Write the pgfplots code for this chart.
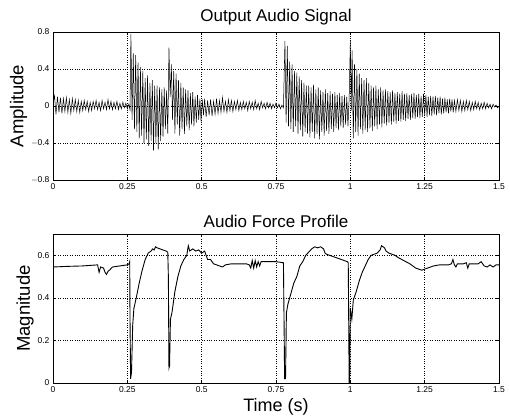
\documentclass[border=0pt]{standalone}
\usepackage{fontspec}
\setmainfont{Liberation Sans}
\usepackage{pgfplots}
\pgfplotsset{compat=1.18}

\pgfplotsset{
  mstyle/.style={
    scale only axis, width=446pt,
    xmin=0, xmax=1.5,
    xtick={0,0.25,0.5,0.75,1,1.25,1.5},
    xticklabels={0,0.25,0.5,0.75,1,1.25,1.5},
    tick align=inside, major tick length=3pt,
    tick style={black, thin},
    ticklabel style={font=\fontsize{8.5}{9}\selectfont},
    /pgf/number format/assume math mode=true,
    grid=major, grid style={black, dotted, thin},
    axis line style={black, thin},
    title style={font=\fontsize{17}{18}\selectfont, yshift=-3pt},
    ylabel style={font=\fontsize{18.5}{20}\selectfont, yshift=-3pt},
    xlabel style={font=\fontsize{18}{20}\selectfont, yshift=1pt},
  }
}

\begin{document}
\begin{tikzpicture}
\useasboundingbox (0pt,0pt) rectangle (510pt,419pt);

% top: audio signal
\begin{axis}[mstyle, at={(53pt,239pt)}, anchor=south west, height=148pt,
    ymin=-0.8, ymax=0.8, ytick={-0.8,-0.4,0,0.4,0.8},
    yticklabels={$-$0.8,$-$0.4,0,0.4,0.8},
    title={Output Audio Signal}, ylabel={Amplitude}]
\addplot[black, line width=0.5pt] coordinates {
(0.000,0.02) (0.005,0.11) (0.010,-0.09) (0.015,0.10) (0.020,-0.07) (0.025,0.09) (0.030,-0.08) (0.035,0.08)
(0.040,-0.06) (0.045,0.09) (0.050,-0.07) (0.055,0.07) (0.060,-0.08) (0.065,0.08) (0.070,-0.05) (0.075,0.07)
(0.080,-0.06) (0.085,0.06) (0.090,-0.07) (0.095,0.05) (0.100,-0.05) (0.105,0.06) (0.110,-0.04) (0.115,0.05)
(0.120,-0.06) (0.125,0.04) (0.130,-0.05) (0.135,0.05) (0.140,-0.03) (0.145,0.06) (0.150,-0.04) (0.155,0.04)
(0.160,-0.05) (0.165,0.06) (0.170,-0.03) (0.175,0.04) (0.180,-0.04) (0.185,0.07) (0.190,-0.03) (0.195,0.05)
(0.200,-0.04) (0.205,0.04) (0.210,-0.03) (0.215,0.05) (0.220,-0.04) (0.225,0.03) (0.230,-0.03) (0.235,0.04)
(0.240,-0.02) (0.245,0.03) (0.250,-0.03) (0.255,0.02) (0.259,-0.04)
(0.262,0.78) (0.266,-0.15) (0.270,0.57) (0.274,-0.25) (0.278,0.55) (0.282,-0.28) (0.286,0.47) (0.290,-0.35)
(0.294,0.42) (0.298,-0.32) (0.302,0.38) (0.306,-0.40) (0.310,0.30) (0.314,-0.36) (0.318,0.33) (0.322,-0.43)
(0.326,0.25) (0.330,-0.38) (0.334,0.28) (0.338,-0.48) (0.342,0.22) (0.346,-0.40) (0.350,0.22) (0.354,-0.47)
(0.358,0.20) (0.362,-0.38) (0.366,0.18) (0.370,-0.33) (0.374,0.20) (0.378,-0.25) (0.382,0.17) (0.386,-0.30)
(0.390,0.63) (0.394,0.10) (0.398,0.45) (0.402,-0.15) (0.406,0.38) (0.410,-0.30) (0.414,0.35) (0.418,-0.20)
(0.422,0.28) (0.426,-0.32) (0.430,0.25) (0.434,-0.25) (0.438,0.20) (0.442,-0.30) (0.446,0.18) (0.450,-0.22)
(0.454,0.17) (0.458,-0.26) (0.462,0.14) (0.466,-0.20) (0.470,0.15) (0.474,-0.22) (0.478,0.10) (0.482,-0.18)
(0.486,0.12) (0.490,-0.15) (0.494,0.08) (0.498,-0.17) (0.502,0.07) (0.506,-0.10)
(0.510,0.08) (0.515,-0.12) (0.520,0.06) (0.525,-0.10) (0.530,0.07) (0.535,-0.11) (0.540,0.05) (0.545,-0.09)
(0.550,0.08) (0.555,-0.08) (0.560,0.06) (0.565,-0.07) (0.570,0.09) (0.575,-0.06) (0.580,0.05) (0.585,-0.07)
(0.590,0.07) (0.595,-0.05) (0.600,0.06) (0.605,-0.06) (0.610,0.05) (0.615,-0.04) (0.620,0.06) (0.625,-0.05)
(0.630,0.04) (0.635,-0.04) (0.640,0.05) (0.645,-0.03) (0.650,0.04) (0.655,-0.05) (0.660,0.05) (0.665,-0.03)
(0.670,0.04) (0.675,-0.04) (0.680,0.06) (0.685,-0.03) (0.690,0.03) (0.695,-0.04) (0.700,0.05) (0.705,-0.02)
(0.710,0.03) (0.715,-0.03) (0.720,0.04) (0.725,-0.02) (0.730,0.03) (0.735,-0.03) (0.740,0.02) (0.745,-0.02)
(0.750,0.03) (0.755,-0.02) (0.760,0.02) (0.765,-0.03) (0.770,0.01) (0.775,-0.02)
(0.780,0.70) (0.784,-0.18) (0.788,0.65) (0.792,-0.22) (0.796,0.48) (0.800,-0.25) (0.804,0.45) (0.808,-0.28)
(0.812,0.38) (0.816,-0.22) (0.820,0.36) (0.824,-0.30) (0.828,0.32) (0.832,-0.26) (0.836,0.28) (0.840,-0.33)
(0.844,0.25) (0.848,-0.28) (0.852,0.22) (0.856,-0.30) (0.860,0.22) (0.864,-0.34) (0.868,0.20) (0.872,-0.28)
(0.876,0.23) (0.880,-0.35) (0.884,0.18) (0.888,-0.30) (0.892,0.20) (0.896,-0.36) (0.900,0.17) (0.904,-0.28)
(0.908,0.15) (0.912,-0.32) (0.916,0.18) (0.920,-0.27) (0.924,0.14) (0.928,-0.30) (0.932,0.16) (0.936,-0.25)
(0.940,0.13) (0.944,-0.28) (0.948,0.15) (0.952,-0.24) (0.956,0.12) (0.960,-0.26) (0.964,0.14) (0.968,-0.22)
(0.972,0.11) (0.976,-0.24) (0.980,0.12) (0.984,-0.20) (0.988,0.10) (0.992,-0.22) (0.996,0.08)
(1.000,0.70) (1.003,-0.05) (1.006,0.60) (1.010,-0.35) (1.014,0.45) (1.018,-0.28) (1.022,0.40) (1.026,-0.32)
(1.030,0.35) (1.034,-0.25) (1.038,0.30) (1.042,-0.30) (1.046,0.28) (1.050,-0.26) (1.054,0.30) (1.058,-0.28)
(1.062,0.25) (1.066,-0.24) (1.070,0.22) (1.074,-0.27) (1.078,0.20) (1.082,-0.22) (1.086,0.22) (1.090,-0.25)
(1.094,0.18) (1.098,-0.20) (1.102,0.20) (1.106,-0.23) (1.110,0.17) (1.114,-0.19) (1.118,0.18) (1.122,-0.21)
(1.126,0.16) (1.130,-0.18) (1.134,0.15) (1.138,-0.20) (1.142,0.17) (1.146,-0.17) (1.150,0.14) (1.154,-0.19)
(1.158,0.15) (1.162,-0.16) (1.166,0.13) (1.170,-0.17) (1.174,0.16) (1.178,-0.15) (1.182,0.13) (1.186,-0.16)
(1.190,0.14) (1.194,-0.14) (1.198,0.12) (1.202,-0.15) (1.206,0.13) (1.210,-0.13) (1.214,0.14) (1.218,-0.14)
(1.222,0.12) (1.226,-0.12) (1.230,0.13) (1.234,-0.13) (1.238,0.11) (1.242,-0.12) (1.246,0.13) (1.250,-0.11)
(1.254,0.12) (1.258,-0.12) (1.262,0.10) (1.266,-0.10) (1.270,0.11) (1.274,-0.11) (1.278,0.10) (1.282,-0.09)
(1.286,0.11) (1.290,-0.10) (1.294,0.09) (1.298,-0.08) (1.302,0.10) (1.306,-0.09) (1.310,0.08) (1.314,-0.08)
(1.318,0.09) (1.322,-0.07) (1.326,0.07) (1.330,-0.08) (1.334,0.08) (1.338,-0.06) (1.342,0.07) (1.346,-0.07)
(1.350,0.06) (1.355,-0.06) (1.360,0.07) (1.365,-0.05) (1.370,0.06) (1.375,-0.06) (1.380,0.05) (1.385,-0.05)
(1.390,0.06) (1.395,-0.04) (1.400,0.05) (1.405,-0.05) (1.410,0.04) (1.415,-0.04) (1.420,0.05) (1.425,-0.03)
(1.430,0.04) (1.435,-0.04) (1.440,0.03) (1.445,-0.03) (1.450,0.04) (1.455,-0.03) (1.460,0.03) (1.465,-0.02)
(1.470,0.02) (1.475,-0.03) (1.480,0.02) (1.485,-0.01) (1.490,0.01) (1.495,-0.02) (1.500,0.00)
};
\end{axis}

% bottom: force profile
\begin{axis}[mstyle, at={(53pt,36pt)}, anchor=south west, height=149pt,
    ymin=0, ymax=0.7, ytick={0,0.2,0.4,0.6},
    yticklabels={0,0.2,0.4,0.6},
    title={Audio Force Profile}, ylabel={Magnitude}, xlabel={Time (s)}]
\addplot[black, line width=0.9pt] coordinates {
(0.000,0.545) (0.050,0.548) (0.100,0.550) (0.150,0.555) (0.155,0.520) (0.160,0.545) (0.170,0.540)
(0.175,0.520) (0.180,0.510) (0.185,0.525) (0.190,0.530) (0.200,0.545) (0.250,0.555) (0.256,0.560)
(0.258,0.570) (0.259,0.300) (0.261,0.020) (0.264,0.050) (0.268,0.270) (0.272,0.350) (0.280,0.400)
(0.290,0.470) (0.300,0.530) (0.310,0.580) (0.320,0.610) (0.330,0.620) (0.335,0.630) (0.340,0.625)
(0.345,0.640) (0.350,0.635) (0.360,0.630) (0.370,0.625) (0.380,0.620) (0.386,0.615) (0.388,0.500)
(0.390,0.070) (0.392,0.080) (0.395,0.300) (0.400,0.330) (0.410,0.430) (0.420,0.500) (0.430,0.550)
(0.440,0.580) (0.450,0.600) (0.455,0.645) (0.460,0.620) (0.470,0.630) (0.480,0.620) (0.490,0.625)
(0.500,0.610) (0.510,0.620) (0.515,0.600) (0.520,0.580) (0.530,0.580) (0.540,0.560) (0.550,0.555)
(0.560,0.550) (0.570,0.545) (0.580,0.555) (0.600,0.560) (0.650,0.560) (0.660,0.555) (0.665,0.540)
(0.670,0.575) (0.675,0.540) (0.680,0.575) (0.685,0.545) (0.690,0.570) (0.695,0.550) (0.700,0.570)
(0.750,0.570) (0.775,0.565) (0.777,0.300) (0.779,0.020) (0.782,0.020) (0.785,0.330) (0.790,0.370)
(0.800,0.420) (0.810,0.470) (0.820,0.500) (0.830,0.550) (0.840,0.570) (0.850,0.600) (0.860,0.615)
(0.870,0.630) (0.880,0.640) (0.890,0.635) (0.900,0.640) (0.910,0.630) (0.915,0.610) (0.920,0.605)
(0.950,0.590) (0.990,0.570) (0.993,0.565) (0.995,0.200) (0.996,0.000) (0.998,0.010) (1.000,0.350)
(1.005,0.300) (1.010,0.390) (1.020,0.430) (1.030,0.480) (1.040,0.520) (1.050,0.550) (1.060,0.580)
(1.070,0.600) (1.080,0.605) (1.090,0.610) (1.100,0.625) (1.105,0.645) (1.110,0.640) (1.115,0.635)
(1.120,0.620) (1.130,0.610) (1.140,0.605) (1.150,0.600) (1.160,0.590) (1.180,0.575) (1.200,0.560)
(1.220,0.540) (1.240,0.530) (1.260,0.540) (1.280,0.550) (1.300,0.555) (1.330,0.555) (1.340,0.560)
(1.345,0.580) (1.350,0.555) (1.355,0.545) (1.360,0.560) (1.380,0.560) (1.390,0.565) (1.395,0.540)
(1.400,0.560) (1.430,0.560) (1.440,0.570) (1.450,0.550) (1.460,0.545) (1.470,0.555) (1.480,0.545)
(1.490,0.555) (1.500,0.555)
};
\end{axis}
\end{tikzpicture}
\end{document}
